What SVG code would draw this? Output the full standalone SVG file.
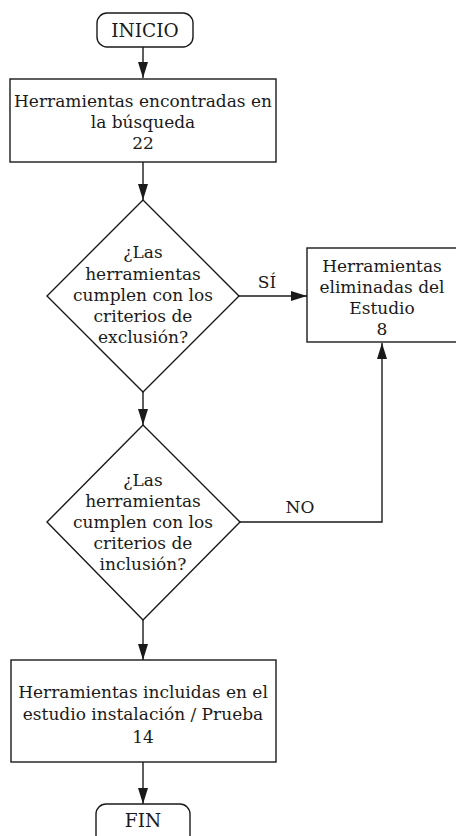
<svg xmlns="http://www.w3.org/2000/svg" width="456" height="836" viewBox="0 0 456 836">
<style>
.shape{fill:#fff;stroke:#1a1a1a;stroke-width:1.4}
.conn{fill:none;stroke:#1a1a1a;stroke-width:1.4}
.t{font-family:'DejaVu Serif','Liberation Serif',serif;font-size:17px;fill:#1a1a1a;text-anchor:middle}
.term{font-size:18.5px}
</style>
<defs>
<marker id="ah" markerWidth="16" markerHeight="10" refX="16" refY="5" orient="auto" markerUnits="userSpaceOnUse">
<path d="M0,0 L16,5 L0,10 Z" fill="#1a1a1a"/>
</marker>
</defs>
<rect width="456" height="836" fill="#fff"/>
<g id="connectors">
<path class="conn" d="M143,47 V78" marker-end="url(#ah)"/>
<path class="conn" d="M143,162 V200" marker-end="url(#ah)"/>
<path class="conn" d="M239,296 H307" marker-end="url(#ah)"/>
<path class="conn" d="M143,392 V425" marker-end="url(#ah)"/>
<path class="conn" d="M240,522 H382 V343" marker-end="url(#ah)"/>
<path class="conn" d="M143,620 V660" marker-end="url(#ah)"/>
<path class="conn" d="M143,762 V804" marker-end="url(#ah)"/>
<text class="t" x="267" y="288">SÍ</text>
<text class="t" x="300" y="513">NO</text>
</g>
<g id="inicio">
<rect class="shape" x="97" y="13" width="96" height="34" rx="10"/>
<text class="t term" x="145" y="37">INICIO</text>
</g>
<g id="encontradas">
<rect class="shape" x="10" y="79" width="266" height="83"/>
<text class="t" x="143" y="107">Herramientas encontradas en</text>
<text class="t" x="143" y="128">la búsqueda</text>
<text class="t" x="143" y="149">22</text>
</g>
<g id="exclusion">
<polygon class="shape" points="143,200 239,296 143,392 47,296"/>
<text class="t" x="143" y="258">¿Las</text>
<text class="t" x="143" y="280">herramientas</text>
<text class="t" x="143" y="301">cumplen con los</text>
<text class="t" x="143" y="322">criterios de</text>
<text class="t" x="143" y="343">exclusión?</text>
</g>
<g id="eliminadas">
<rect class="shape" x="307" y="248" width="152" height="94"/>
<text class="t" x="382" y="272">Herramientas</text>
<text class="t" x="382" y="293">eliminadas del</text>
<text class="t" x="382" y="314">Estudio</text>
<text class="t" x="382" y="335">8</text>
</g>
<g id="inclusion">
<polygon class="shape" points="143,425 240,522 143,620 47,522"/>
<text class="t" x="143" y="486">¿Las</text>
<text class="t" x="143" y="507">herramientas</text>
<text class="t" x="143" y="528">cumplen con los</text>
<text class="t" x="143" y="549">criterios de</text>
<text class="t" x="143" y="570">inclusión?</text>
</g>
<g id="incluidas">
<rect class="shape" x="11" y="660" width="265" height="102"/>
<text class="t" x="143" y="698">Herramientas incluidas en el</text>
<text class="t" x="143" y="720">estudio instalación / Prueba</text>
<text class="t" x="143" y="743">14</text>
</g>
<g id="fin">
<rect class="shape" x="96" y="804" width="94" height="44" rx="10"/>
<text class="t term" x="143" y="827">FIN</text>
</g>
</svg>
